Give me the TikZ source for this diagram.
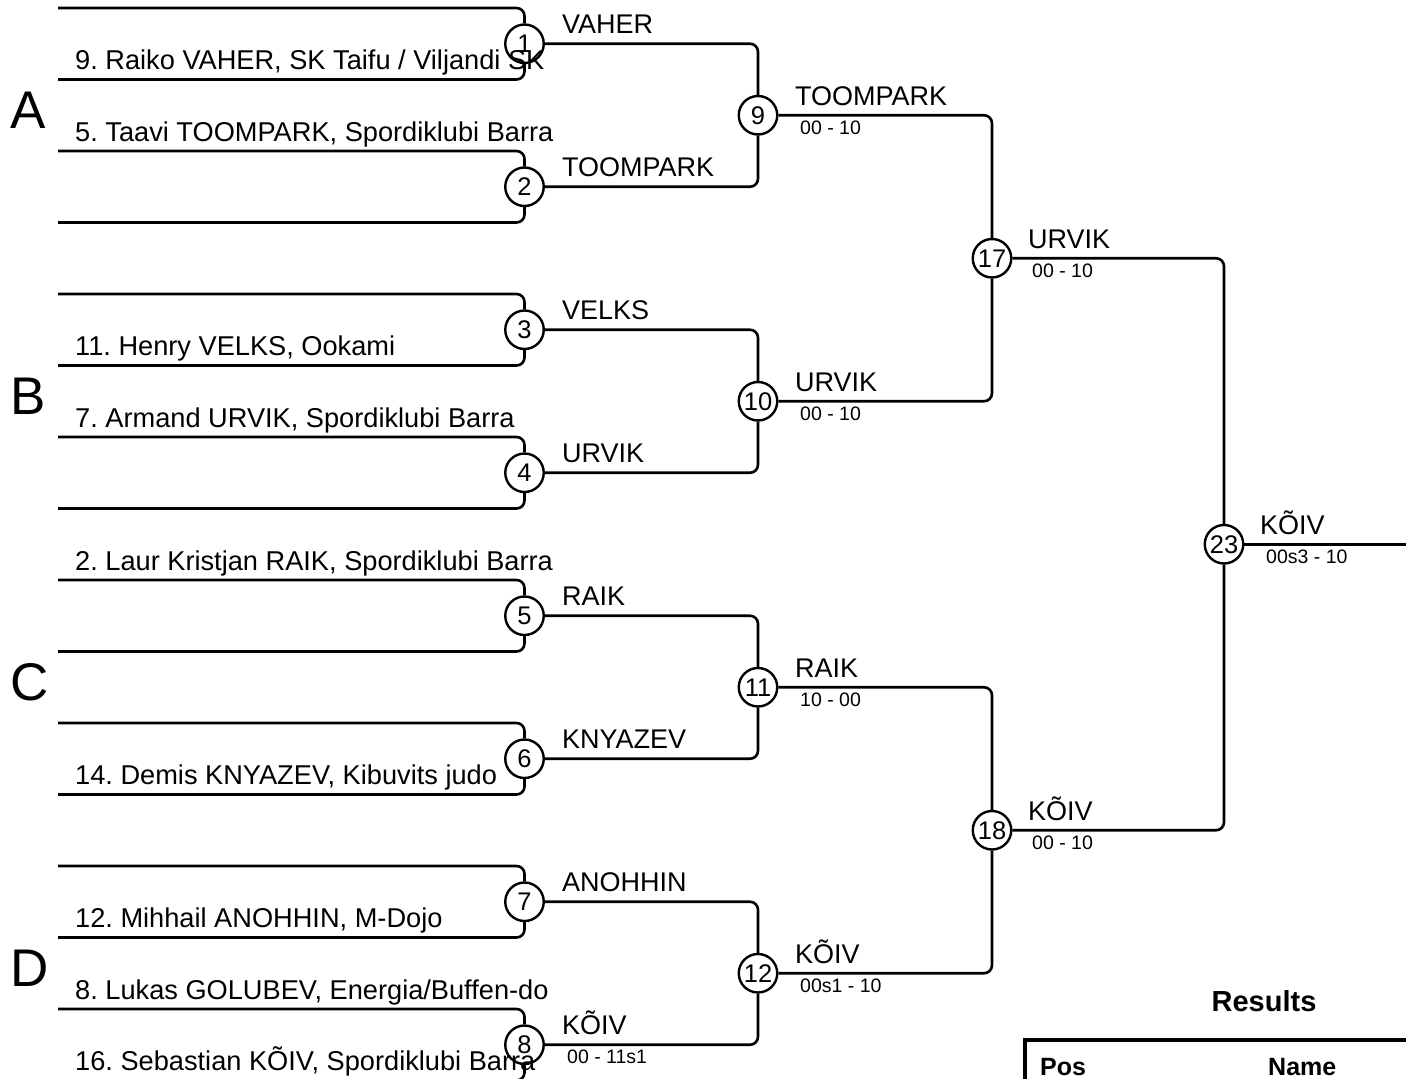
\documentclass[tikz,border=0pt]{standalone}
\usepackage{fontspec}
\setmainfont{Liberation Sans}
\frenchspacing
\begin{document}
\begin{tikzpicture}[x=1pt,y=-1pt,
  ln/.style={line width=2.6pt,rounded corners=8pt},
  mc/.style={circle,draw,line width=2.4pt,minimum size=38.5pt,inner sep=0pt,font=\fontsize{25.5}{26}\selectfont},
  pname/.style={anchor=base west,inner sep=0pt,font=\fontsize{27.2}{28}\selectfont},
  wname/.style={anchor=base west,inner sep=0pt,font=\fontsize{27}{28}\selectfont},
  score/.style={anchor=north west,inner sep=0pt,font=\fontsize{19.5}{20}\selectfont},
  grp/.style={anchor=base west,inner sep=0pt,font=\fontsize{53}{54}\selectfont},
  bhead/.style={anchor=base west,inner sep=0pt,font=\fontsize{25}{26}\selectfont\bfseries}]
\useasboundingbox (0,0) rectangle (1406,1079);
\clip (0,0) rectangle (1406,1079);
% group letters
\node[grp] (gA) at (10,128) {A};
\node[grp] (gB) at (10,414) {B};
\node[grp] (gC) at (10,700) {C};
\node[grp] (gD) at (10,986) {D};
% first round circles and brackets
\foreach \k in {1,...,8}{
  \pgfmathsetmacro{\T}{8+143*(\k-1)}
  \pgfmathsetmacro{\B}{\T+71.5}
  \pgfmathsetmacro{\C}{\T+35.75}
  \node[mc] (c\k) at (524.5,\C) {\k};
  \coordinate (t\k) at (58,\T);
  \coordinate (b\k) at (58,\B);
  \draw[ln] (t\k) -- (t\k -| c\k.north) -- (c\k.north);
  \draw[ln] (b\k) -- (b\k -| c\k.south) -- (c\k.south);
}
% second round
\node[mc] (c9) at (758,115.25) {9};
\node[mc] (c10) at (758,401.25) {10};
\node[mc] (c11) at (758,687.25) {11};
\node[mc] (c12) at (758,973.25) {12};
% third round
\node[mc] (c17) at (992,258.25) {17};
\node[mc] (c18) at (992,830.25) {18};
% final
\node[mc] (c23) at (1224,544.25) {23};
\coordinate (fend) at (1406,544.25);
% connectors
\foreach \a/\b/\m in {1/2/9,3/4/10,5/6/11,7/8/12,9/10/17,11/12/18,17/18/23}{
  \draw[ln] (c\a.east) -- (c\a.east -| c\m.north) -- (c\m.north);
  \draw[ln] (c\b.east) -- (c\b.east -| c\m.south) -- (c\m.south);
}
\draw[ln] (c23.east) -- (fend);
% player names
\node[pname] (p1) at (75,69.5) {9. Raiko VAHER, SK Taifu / Viljandi SK};
\node[pname] (p2) at (75,141) {5. Taavi TOOMPARK, Spordiklubi Barra};
\node[pname] (p3) at (75,355.5) {11. Henry VELKS, Ookami};
\node[pname] (p4) at (75,427) {7. Armand URVIK, Spordiklubi Barra};
\node[pname] (p5) at (75,570) {2. Laur Kristjan RAIK, Spordiklubi Barra};
\node[pname] (p6) at (75,784.5) {14. Demis KNYAZEV, Kibuvits judo};
\node[pname] (p7) at (75,927.5) {12. Mihhail ANOHHIN, M-Dojo};
\node[pname] (p8) at (75,999) {8. Lukas GOLUBEV, Energia/Buffen-do};
\node[pname] (p9) at (75,1070.5) {16. Sebastian KÕIV, Spordiklubi Barra};
% round 1 winners
\node[wname] (w1) at (562,33.75) {VAHER};
\node[wname] (w2) at (562,176.75) {TOOMPARK};
\node[wname] (w3) at (562,319.75) {VELKS};
\node[wname] (w4) at (562,462.75) {URVIK};
\node[wname] (w5) at (562,605.75) {RAIK};
\node[wname] (w6) at (562,748.75) {KNYAZEV};
\node[wname] (w7) at (562,891.75) {ANOHHIN};
\node[wname] (w8) at (562,1034.75) {KÕIV};
\node[score] (s8) at (567,1050) {00 - 11s1};
% round 2 winners
\node[wname] (w9) at (795,105.25) {TOOMPARK};
\node[score] (s9) at (800,120.5) {00 - 10};
\node[wname] (w10) at (795,391.25) {URVIK};
\node[score] (s10) at (800,406.5) {00 - 10};
\node[wname] (w11) at (795,677.25) {RAIK};
\node[score] (s11) at (800,692.5) {10 - 00};
\node[wname] (w12) at (795,963.25) {KÕIV};
\node[score] (s12) at (800,978.5) {00s1 - 10};
% round 3 winners
\node[wname] (w17) at (1028,248.25) {URVIK};
\node[score] (s17) at (1032,263.5) {00 - 10};
\node[wname] (w18) at (1028,820.25) {KÕIV};
\node[score] (s18) at (1032,835.5) {00 - 10};
% final
\node[wname] (w23) at (1260,534.25) {KÕIV};
\node[score] (s23) at (1266,549.5) {00s3 - 10};
% results
\node[anchor=base,inner sep=0pt,font=\fontsize{29}{30}\selectfont\bfseries] (res) at (1264,1011) {Results};
\coordinate (tl) at (1025,1040);
\coordinate (tr) at (1406,1040);
\coordinate (tb) at (1025,1090);
\draw[line width=4pt] (tb) -- (tl) -- (tr);
\node[bhead] (hpos) at (1040,1075) {Pos};
\node[bhead] (hname) at (1268,1075) {Name};
\end{tikzpicture}
\end{document}
